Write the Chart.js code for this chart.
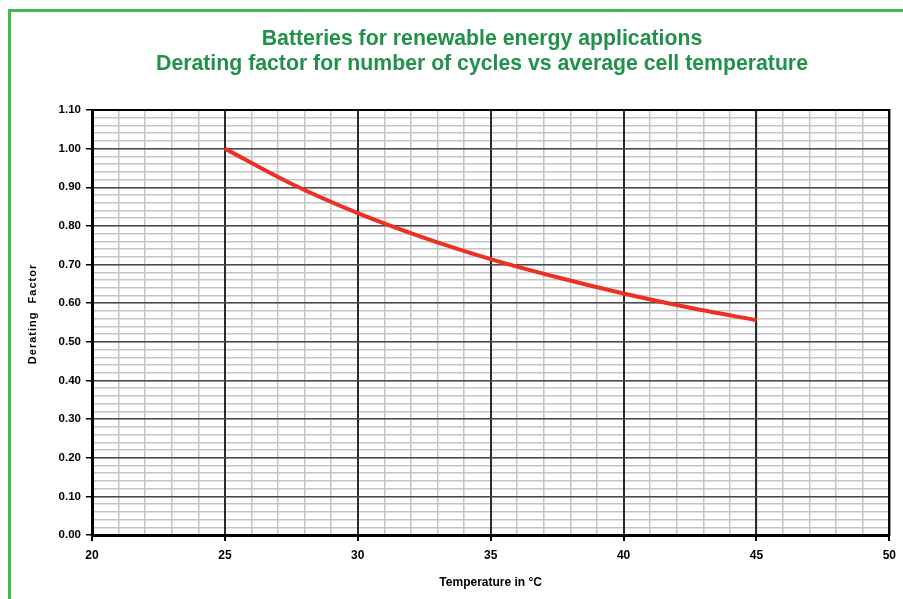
<!DOCTYPE html>
<html lang="en">
<head>
  <meta charset="UTF-8">
  <title>Derating factor vs cell temperature</title>
  <script src="https://cdn.jsdelivr.net/npm/chart.js"></script>
  <style>
    body { margin: 0; background: #fff; }
    #wrap { width: 903px; height: 599px; }
  </style>
</head>
<body>
<div id="wrap"><canvas id="chart" width="903" height="599"></canvas></div>

<script>
  // data
  const titleLines = [
    "Batteries for renewable energy applications",
    "Derating factor for number of cycles vs average cell temperature"
  ];
  const xTitle = "Temperature in °C";
  const yTitle = "Derating  Factor";
  const temps = [25, 27.5, 30, 32.5, 35, 37.5, 40, 42.5, 45];
  const factor = [1.000, 0.909, 0.833, 0.769, 0.714, 0.667, 0.625, 0.588, 0.556];
  const xRange = [20, 50];
  const yRange = [0, 1.1];
  const xSteps = [5, 1];      // major, minor
  const ySteps = [0.1, 0.02]; // major, minor

  const FONT = "'Liberation Sans', Arial, sans-serif";
  const GREEN = "#21914a";

  // page frame, titles and plot box
  const decor = {
    id: "decor",
    beforeDraw(chart) {
      const c = chart.ctx;
      c.save();
      c.strokeStyle = "#41b94c";
      c.lineWidth = 3;
      c.beginPath();
      c.moveTo(9.5, 599);
      c.lineTo(9.5, 10.5);
      c.lineTo(903, 10.5);
      c.stroke();
      c.restore();
    },
    beforeDatasetsDraw(chart) {
      const a = chart.chartArea, c = chart.ctx;
      c.save();
      c.strokeStyle = "#000";
      c.lineWidth = 2;
      c.strokeRect(a.left, a.top, a.right - a.left, a.bottom - a.top);
      c.restore();
    },
    afterDraw(chart) {
      const a = chart.chartArea, c = chart.ctx;
      c.save();
      c.textAlign = "center";
      c.textBaseline = "alphabetic";
      c.fillStyle = GREEN;
      c.font = "bold 21.25px " + FONT;
      c.fillText(titleLines[0], 482, 45);
      c.fillText(titleLines[1], 482, 70);

      c.textBaseline = "middle";
      c.fillStyle = "#000";
      c.font = "bold 12px " + FONT;
      c.fillText(xTitle, (a.left + a.right) / 2, 583);

      c.translate(33, 314);
      c.rotate(-Math.PI / 2);
      c.font = "bold 11px " + FONT;
      c.letterSpacing = "1px";
      c.fillText(yTitle, 0, 0);
      c.restore();
    }
  };

  const tickFont = size => ({ family: FONT, size: size, weight: "bold" });

  // light grid only, drawn under the major one
  const minorScale = (axis, range, step) => ({
    axis: axis,
    type: "linear",
    position: axis === "x" ? "bottom" : "left",
    min: range[0], max: range[1],
    z: -1,
    afterFit: s => { if (axis === "x") s.height = 0; else s.width = 0; },
    border: { display: false },
    grid: { color: "#c4c4c4", lineWidth: 1.5, drawTicks: false },
    ticks: { display: false, stepSize: step, autoSkip: false }
  });

  new Chart(document.getElementById("chart"), {
    type: "line",
    data: {
      datasets: [{
        data: temps.map((t, i) => ({ x: t, y: factor[i] })),
        borderColor: "#ec3026",
        borderWidth: 4,
        borderCapStyle: "butt",
        pointRadius: 0,
        cubicInterpolationMode: "monotone",
        fill: false
      }]
    },
    options: {
      responsive: false,
      animation: false,
      layout: { padding: { top: 110, right: 11, left: 0, bottom: 0 } },
      plugins: { legend: { display: false }, tooltip: { enabled: false } },
      scales: {
        xMinor: minorScale("x", xRange, xSteps[1]),
        yMinor: minorScale("y", yRange, ySteps[1]),
        x: {
          type: "linear",
          min: xRange[0], max: xRange[1],
          afterFit: s => { s.height = 64; },
          border: { color: "#000", width: 3 },
          grid: { color: "#2a2a2a", lineWidth: 2, tickColor: "#000", tickLength: 6 },
          ticks: {
            stepSize: xSteps[0],
            autoSkip: false,
            maxRotation: 0,
            padding: 7,
            color: "#000",
            font: tickFont(12)
          }
        },
        y: {
          min: yRange[0], max: yRange[1],
          afterFit: s => { s.width = 92; },
          border: { color: "#000", width: 3 },
          grid: { color: "#4a4a4a", lineWidth: 1.5, tickColor: "#000", tickLength: 6 },
          ticks: {
            stepSize: ySteps[0],
            autoSkip: false,
            padding: 5,
            color: "#000",
            font: tickFont(11.5),
            callback: v => v.toFixed(2)
          }
        }
      }
    },
    plugins: [decor]
  });
</script>
</body>
</html>
